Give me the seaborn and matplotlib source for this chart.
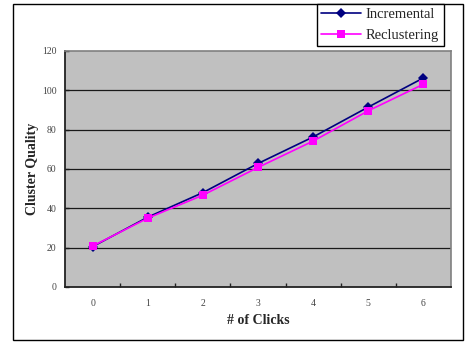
import matplotlib
matplotlib.use("Agg")
import matplotlib.pyplot as plt
from matplotlib.patches import Rectangle
from matplotlib.ticker import FixedLocator
import seaborn as sns
import pandas as pd

clicks = [0, 1, 2, 3, 4, 5, 6]
incremental = [20.5, 35.5, 48, 62.8, 76.3, 91.5, 106.3]
reclustering = [20.8, 35, 46.7, 60.8, 74.2, 89.6, 103.1]
y_ticks = [0, 20, 40, 60, 80, 100, 120]

df = pd.DataFrame({
    "clicks": clicks * 2,
    "quality": incremental + reclustering,
    "method": ["Incremental"] * len(clicks) + ["Reclustering"] * len(clicks),
})

sns.set_theme(style="white")
plt.rcParams["font.family"] = ["Liberation Serif", "DejaVu Serif"]

W, H = 467, 343
fig = plt.figure(figsize=(W / 100, H / 100), dpi=100)
fig.patch.set_facecolor("white")

# outer chart frame
fig.patches.append(Rectangle((13 / W, 1 - 340 / H), (463 - 13) / W, (340 - 4) / H,
                             transform=fig.transFigure, fill=False,
                             edgecolor="black", linewidth=1.0, zorder=0))

ax = fig.add_axes([65 / W, 1 - 287 / H, (451 - 65) / W, (287 - 51) / H])
ax.set_facecolor("#C0C0C0")

for yv in y_ticks[1:-1]:
    ax.axhline(yv, color="#1a1a1a", linewidth=0.9, zorder=1)

palette = {"Incremental": "#000080", "Reclustering": "#FF00FF"}
markers = {"Incremental": "D", "Reclustering": "s"}
sns.lineplot(data=df, x="clicks", y="quality", hue="method", style="method",
             palette=palette, markers=markers, dashes=False, markersize=6,
             markeredgewidth=0, linewidth=1.2, ax=ax, zorder=3)
# diamonds a touch smaller than the squares
for line in ax.get_lines():
    if line.get_marker() == "D":
        line.set_markersize(5)

ax.set_xlim(-0.5, 6.5)
ax.set_ylim(0, 120)
ax.set_xticks(clicks)
ax.set_xticklabels([str(c) for c in clicks])
ax.xaxis.set_minor_locator(FixedLocator([c + 0.5 for c in clicks[:-1]]))
ax.tick_params(axis="x", which="major", length=0, pad=9, labelsize=7, labelcolor="#444444")
ax.tick_params(axis="x", which="minor", direction="in", length=3, width=1, color="#222222", bottom=True)
ax.set_yticks(y_ticks)
ax.tick_params(axis="y", which="major", direction="in", length=3, width=1, color="#222222",
               pad=6, labelsize=7, labelcolor="#444444", left=True)

for side in ["left", "bottom"]:
    ax.spines[side].set_color("#222222")
    ax.spines[side].set_linewidth(1.3)
for side in ["top", "right"]:
    ax.spines[side].set_color("#808080")
    ax.spines[side].set_linewidth(1.2)

ax.set_xlabel("# of Clicks", fontsize=10, fontweight="bold")
ax.set_ylabel("Cluster Quality", fontsize=10, fontweight="bold")
ax.xaxis.set_label_coords(0.5, -0.115)
ax.yaxis.set_label_coords(-0.067, 0.5)

handles, labels = ax.get_legend_handles_labels()
if ax.legend_:
    ax.legend_.remove()
leg = fig.legend(handles, labels, loc="lower left",
                 bbox_to_anchor=(317 / W, 1 - 46 / H, (444 - 317) / W, 60 / H),
                 mode="expand", frameon=True, fancybox=False, fontsize=10.5,
                 handlelength=2.8, handletextpad=0.3, borderpad=0.25, labelspacing=0.55,
                 borderaxespad=0)
leg.get_frame().set_edgecolor("black")
leg.get_frame().set_linewidth(1.0)
leg.get_frame().set_facecolor("white")
leg.get_frame().set_alpha(1.0)

fig.savefig("out.png", dpi=100, facecolor="white")
